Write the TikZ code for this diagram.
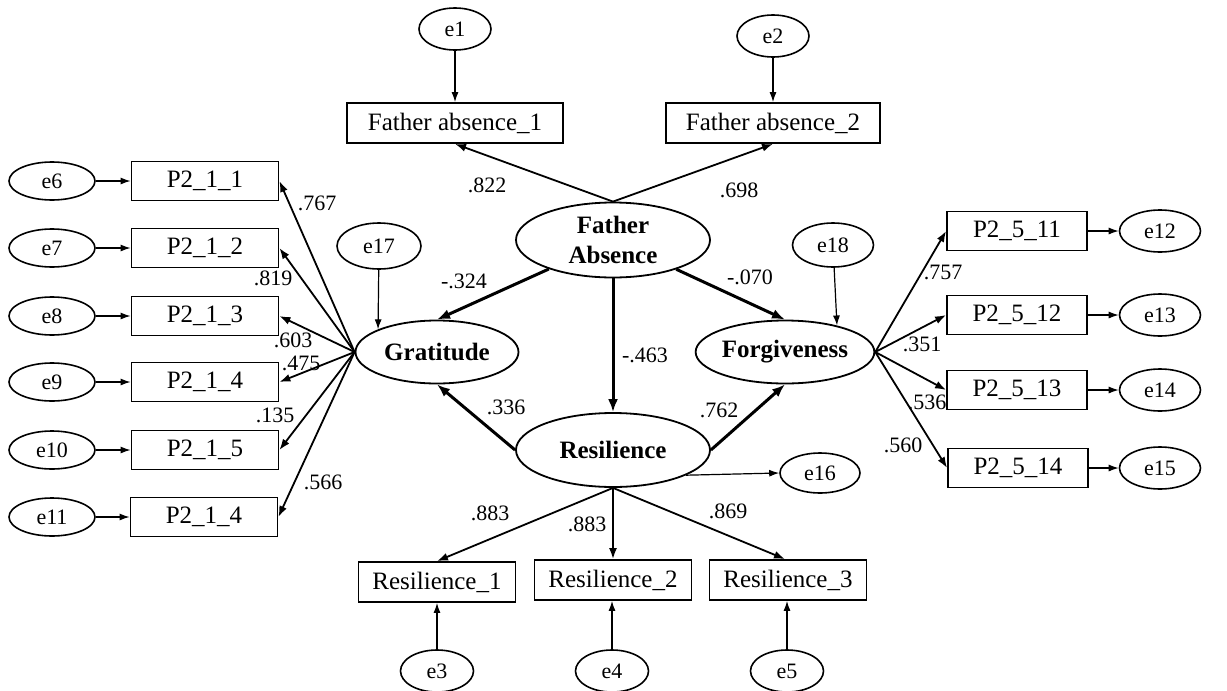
\documentclass[tikz,border=0pt]{standalone}
\usepackage{fontspec}
\setmainfont{Liberation Serif}
\usetikzlibrary{arrows.meta,shapes.geometric}
\begin{document}
\begin{tikzpicture}[x=1pt,y=-1pt,
  box/.style={draw,line width=1.8pt,inner sep=0pt,minimum height=39pt,font=\fontsize{25}{30}\selectfont},
  err/.style={draw,ellipse,line width=1.6pt,inner sep=0pt,minimum width=76pt,minimum height=42pt,font=\fontsize{22}{26}\selectfont},
  lat/.style={draw,ellipse,line width=1.8pt,inner sep=0pt,font=\fontsize{25}{32}\selectfont\bfseries,align=center},
  coef/.style={inner sep=0pt,font=\fontsize{22}{26}\selectfont},
  thin/.style={line width=1.2pt,-{Latex[length=10pt,width=7pt]}},
  load/.style={line width=1.8pt,-{Latex[length=11pt,width=8pt]}},
  struct/.style={line width=3pt,-{Latex[length=13pt,width=10pt]}}
]
\useasboundingbox (0,0) rectangle (1227,691);

% latent variables
\node[lat,minimum width=194pt,minimum height=75pt] (fa) at (613,240) {Father\\[-2pt]Absence};
\node[lat,minimum width=163pt,minimum height=63pt] (grat) at (437,352) {Gratitude};
\node[lat,minimum width=156pt,minimum height=63pt] (forg) at (785,352) {Forgiveness};
\node[lat,minimum width=194pt,minimum height=74pt] (res) at (613,450) {Resilience};

% father absence indicators
\node[box,minimum width=216pt,minimum height=40pt] (fa1) at (455,123) {Father absence\_1};
\node[box,minimum width=214pt,minimum height=40pt] (fa2) at (773,123) {Father absence\_2};
\node[err,minimum width=72pt] (e1) at (455,29) {e1};
\node[err,minimum width=72pt] (e2) at (773,36) {e2};

% resilience indicators
\node[box,minimum width=157pt,minimum height=40pt] (r1) at (437,582) {Resilience\_1};
\node[box,minimum width=157pt,minimum height=40pt] (r2) at (613,580) {Resilience\_2};
\node[box,minimum width=157pt,minimum height=40pt] (r3) at (788,580) {Resilience\_3};
\node[err,minimum width=73pt] (e3) at (437,671) {e3};
\node[err,minimum width=73pt] (e4) at (612,671) {e4};
\node[err,minimum width=73pt] (e5) at (787,671) {e5};

% gratitude indicators
\node[box,minimum width=147pt] (p11) at (205,181) {P2\_1\_1};
\node[box,minimum width=147pt] (p12) at (205,248) {P2\_1\_2};
\node[box,minimum width=147pt] (p13) at (205,316) {P2\_1\_3};
\node[box,minimum width=147pt] (p14) at (205,382) {P2\_1\_4};
\node[box,minimum width=147pt] (p15) at (205,450) {P2\_1\_5};
\node[box,minimum width=147pt] (p16) at (204,517) {P2\_1\_4};
\node[err,minimum width=86pt,minimum height=38pt] (e6) at (52,181) {e6};
\node[err,minimum width=86pt,minimum height=38pt] (e7) at (52,248) {e7};
\node[err,minimum width=86pt,minimum height=38pt] (e8) at (52,316) {e8};
\node[err,minimum width=86pt,minimum height=38pt] (e9) at (52,382) {e9};
\node[err,minimum width=86pt,minimum height=38pt] (e10) at (52,450) {e10};
\node[err,minimum width=86pt,minimum height=38pt] (e11) at (52,517) {e11};

% forgiveness indicators
\node[box,minimum width=140pt] (p511) at (1017,231) {P2\_5\_11};
\node[box,minimum width=140pt] (p512) at (1017,315) {P2\_5\_12};
\node[box,minimum width=140pt] (p513) at (1017,390) {P2\_5\_13};
\node[box,minimum width=140pt] (p514) at (1018,468) {P2\_5\_14};
\node[err,minimum width=81pt] (e12) at (1160,231) {e12};
\node[err,minimum width=81pt] (e13) at (1160,315) {e13};
\node[err,minimum width=81pt] (e14) at (1160,390) {e14};
\node[err,minimum width=81pt] (e15) at (1160,468) {e15};

% disturbances
\node[err,minimum width=84pt,minimum height=46pt] (e17) at (379,246) {e17};
\node[err,minimum width=81pt,minimum height=44pt] (e18) at (833,245) {e18};
\node[err,minimum width=80pt,minimum height=40pt] (e16) at (820,473) {e16};

% error arrows
\draw[thin] (e1) -- (fa1);
\draw[thin] (e2) -- (fa2);
\draw[thin] (e3) -- (r1);
\draw[thin] (e4) -- (e4 |- r2.south);
\draw[thin] (e5) -- (e5 |- r3.south);
\foreach \e/\p in {e6/p11,e7/p12,e8/p13,e9/p14,e10/p15,e11/p16}
  \draw[thin] (\e) -- (\p);
\foreach \p/\e in {p511/e12,p512/e13,p513/e14,p514/e15}
  \draw[thin] (\p) -- (\e);
\draw[thin] (e17) -- (grat.159);
\draw[thin] (e18) -- (forg.27);
\draw[thin] (res.-19) -- (e16.west);

% loadings
\draw[load] (fa.north) -- (fa1.south);
\draw[load] (fa.north) -- (fa2.south);
\draw[load] (res.south) -- (r1.north);
\draw[load] (res.south) -- (r2.north);
\draw[load] (res.south) -- ([xshift=-3pt]r3.north);
\foreach \p in {p11,p12,p13,p14,p15,p16}
  \draw[load] (grat.west) -- (\p.east);
\foreach \p in {p511,p512,p513,p514}
  \draw[load] (forg.east) -- (\p.west);

% structural paths
\draw[struct] (fa) -- (grat.north);
\draw[struct] (fa) -- (forg.north);
\draw[struct] (fa.south) -- (res.north);
\draw[struct] (res.west) -- (grat.south);
\draw[struct] (res.east) -- (forg.south);

% coefficients
\node[coef] (c1) at (487,185) {.822};
\node[coef] (c2) at (739,190) {.698};
\node[coef] (c3) at (464,281) {-.324};
\node[coef] (c4) at (750,277) {-.070};
\node[coef] (c5) at (645,355) {-.463};
\node[coef] (c6) at (506,407) {.336};
\node[coef] (c7) at (719,410) {.762};
\node[coef] (c8) at (490,513) {.883};
\node[coef] (c9) at (587,524) {.883};
\node[coef] (c10) at (728,511) {.869};
\node[coef] (c11) at (317,203) {.767};
\node[coef] (c12) at (273,278) {.819};
\node[coef] (c13) at (293,340) {.603};
\node[coef] (c14) at (301,363) {.475};
\node[coef] (c15) at (275,415) {.135};
\node[coef] (c16) at (323,482) {.566};
\node[coef] (c17) at (943,272) {.757};
\node[coef] (c18) at (922,344) {.351};
\node[coef] (c19) at (927,402) {.536};
\node[coef] (c20) at (903,445) {.560};
\end{tikzpicture}
\end{document}
